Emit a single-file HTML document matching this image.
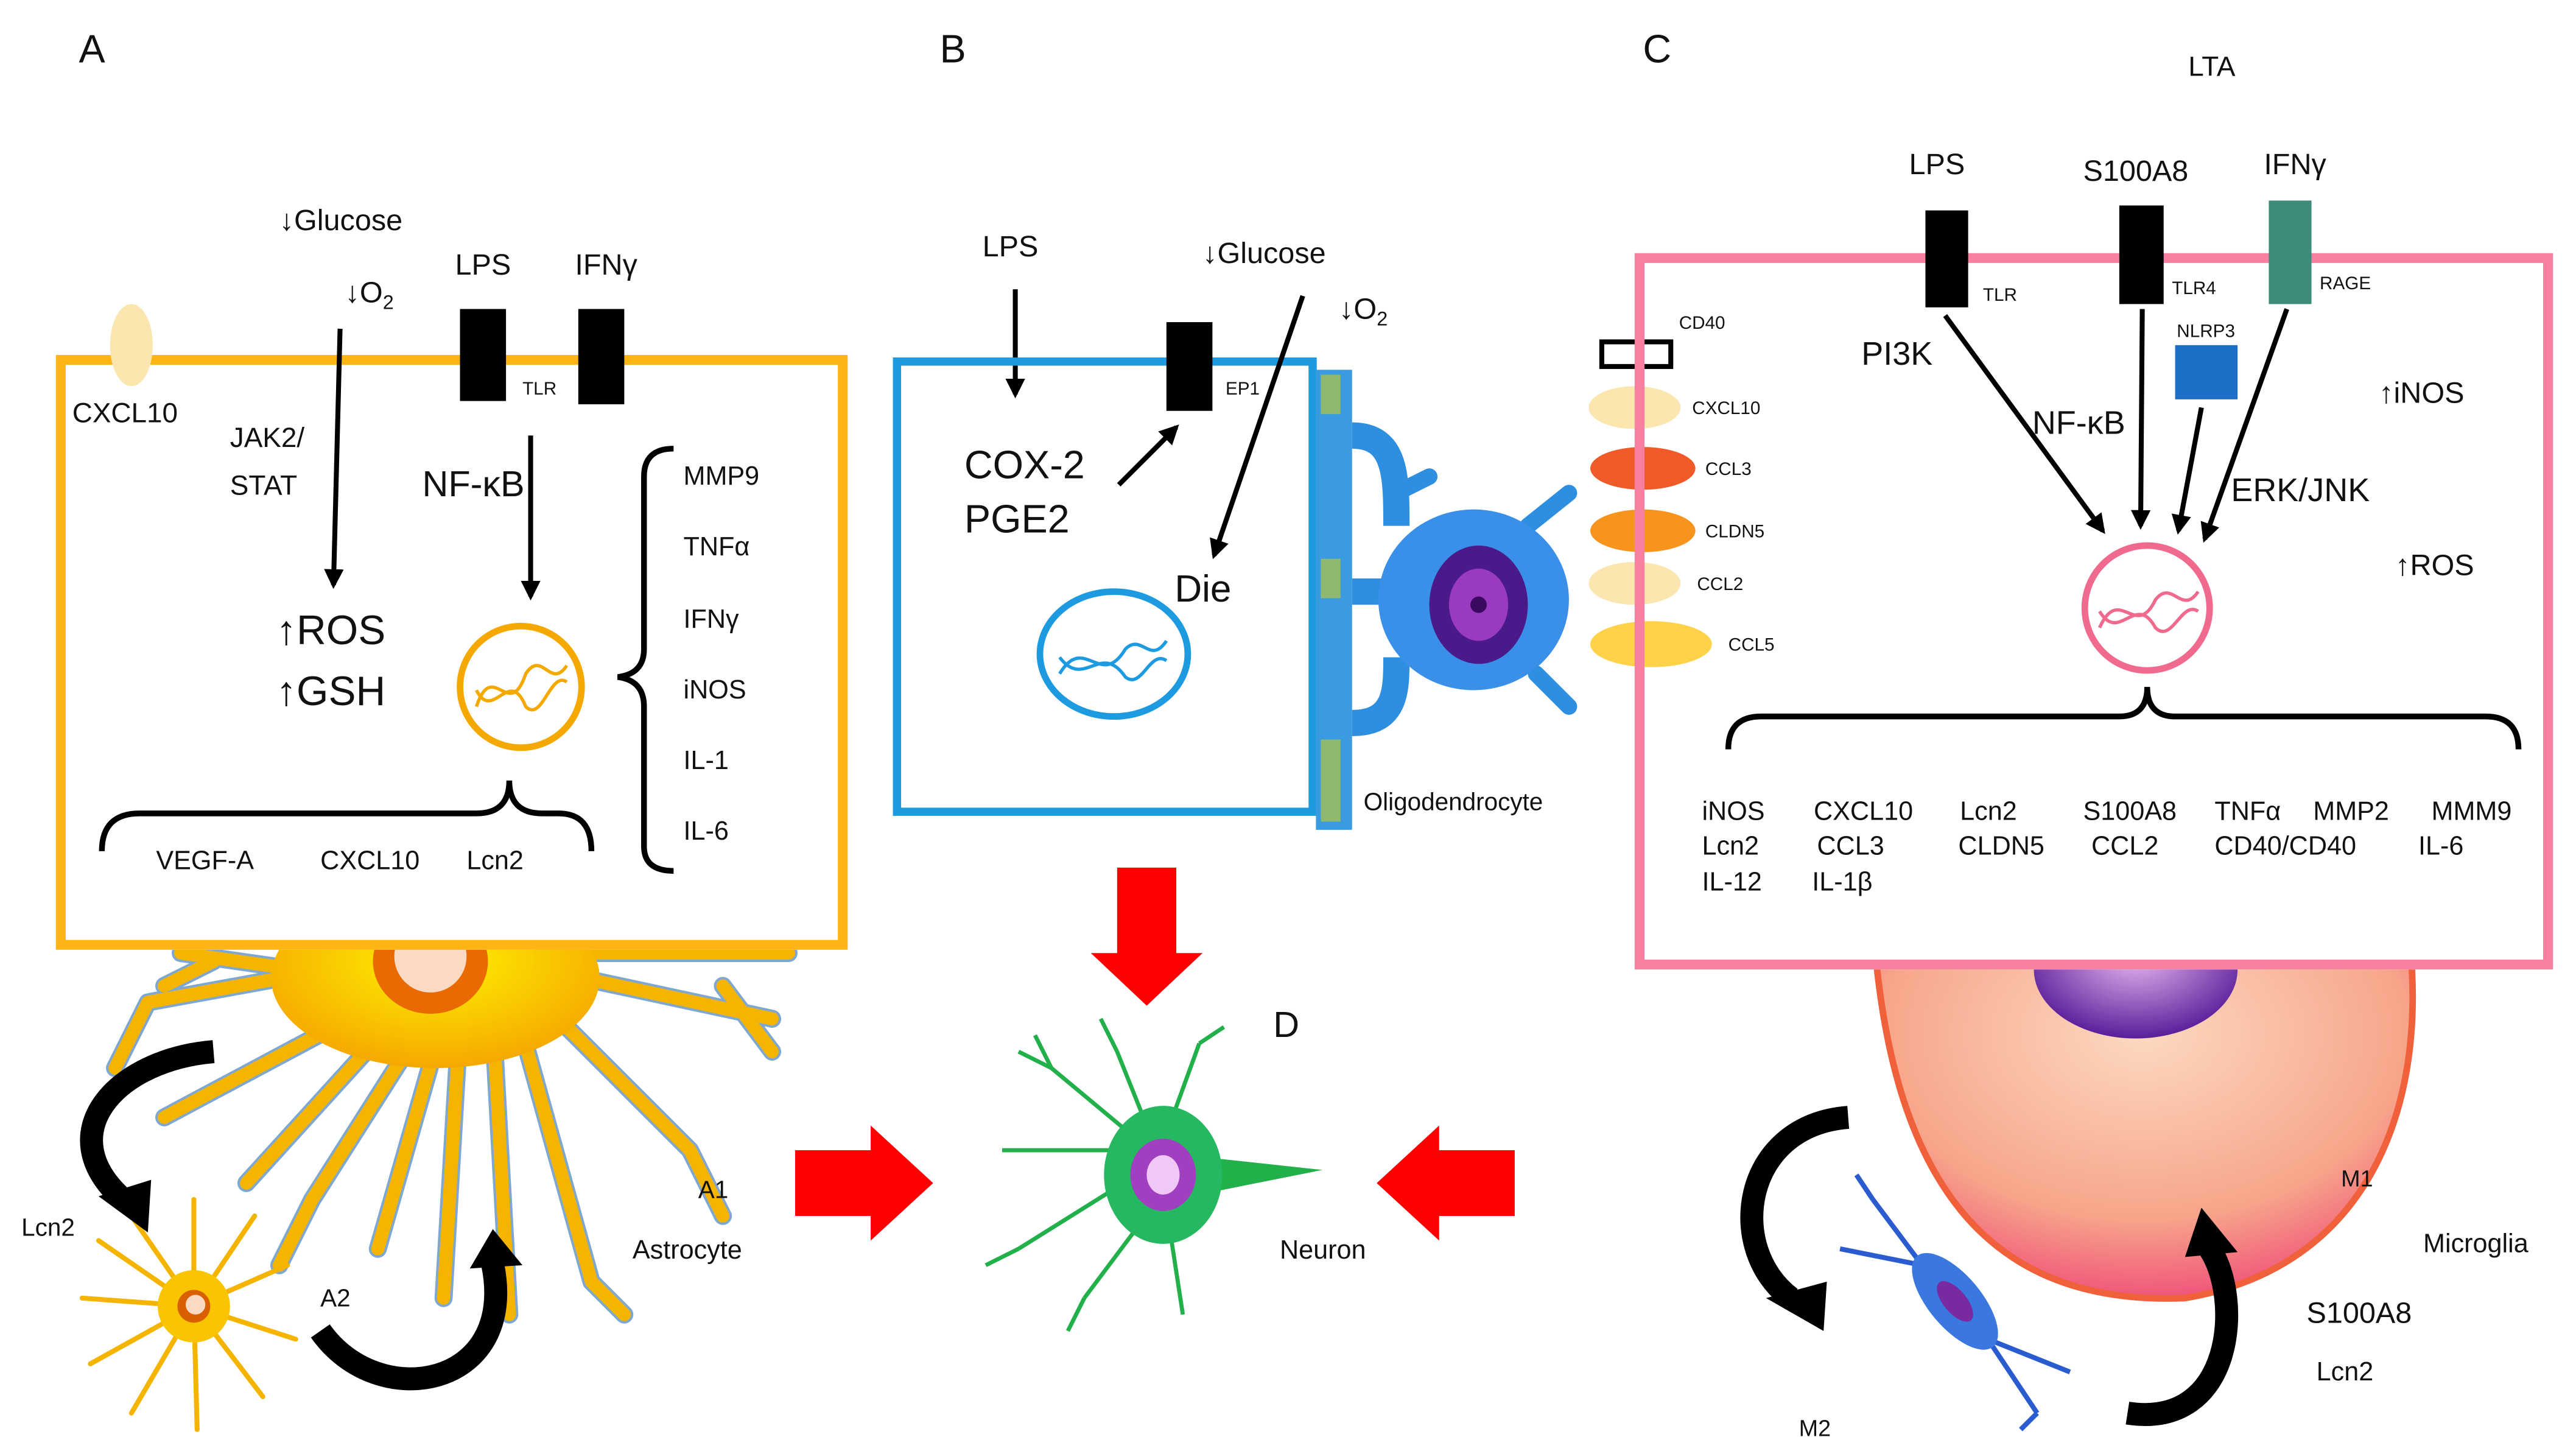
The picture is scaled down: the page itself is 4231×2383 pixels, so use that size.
<!DOCTYPE html>
<html><head><meta charset="utf-8"><style>
html,body{margin:0;padding:0;background:#fff;}
svg{display:block;}
text{font-family:"Liberation Sans",Arial,sans-serif;fill:#111;}
</style></head><body>
<svg width="4231" height="2383" viewBox="0 0 1568 883" xmlns="http://www.w3.org/2000/svg">
<defs>
<marker id="ah" viewBox="0 0 10 10" refX="8" refY="5" markerWidth="4" markerHeight="4" orient="auto"><path d="M0,0 L10,5 L0,10 z" fill="#000"/></marker>
<radialGradient id="astro" cx="50%" cy="40%" r="60%"><stop offset="0" stop-color="#FFF200"/><stop offset="1" stop-color="#F5A800"/></radialGradient>
<radialGradient id="mic" cx="50%" cy="30%" r="70%"><stop offset="0" stop-color="#FCD9C0"/><stop offset="0.7" stop-color="#F7A58A"/><stop offset="1" stop-color="#F0557A"/></radialGradient>
<radialGradient id="nuc" cx="50%" cy="40%" r="60%"><stop offset="0" stop-color="#E8B8F0"/><stop offset="1" stop-color="#5A1E9A"/></radialGradient>
<clipPath id="below"><rect x="0" y="590" width="1568" height="300"/></clipPath>
<clipPath id="belowA"><rect x="0" y="578" width="1568" height="300"/></clipPath>
</defs>

<text x="48" y="38" font-size="24">A</text>
<text x="572" y="38" font-size="24">B</text>
<text x="1000" y="38" font-size="24">C</text>
<text x="1332" y="46" font-size="17">LTA</text>

<!-- ===== Astrocyte drawing (A) ===== -->
<g clip-path="url(#belowA)">
<g stroke="#7FA8D0" stroke-width="11" stroke-linecap="round" fill="none">
<path d="M250,600 L110,580 M250,600 L100,680 M250,610 L150,720 M260,620 L190,730 M270,620 L230,760 M280,620 L270,790 M300,620 L310,800 M310,600 L360,780 M320,600 L420,700 M330,590 L470,620 M330,580 L480,580 M200,590 L90,610 M90,610 L70,650 M420,700 L440,740 M360,780 L380,800 M190,730 L170,770 M440,600 L470,640 M130,585 L100,600"/>
</g>
<g stroke="#F5B400" stroke-width="8" stroke-linecap="round" fill="none">
<path d="M250,600 L110,580 M250,600 L100,680 M250,610 L150,720 M260,620 L190,730 M270,620 L230,760 M280,620 L270,790 M300,620 L310,800 M310,600 L360,780 M320,600 L420,700 M330,590 L470,620 M330,580 L480,580 M200,590 L90,610 M90,610 L70,650 M420,700 L440,740 M360,780 L380,800 M190,730 L170,770 M440,600 L470,640 M130,585 L100,600"/>
</g>
<ellipse cx="265" cy="595" rx="100" ry="55" fill="url(#astro)"/>
<ellipse cx="262" cy="585" rx="35" ry="32" fill="#E86A00"/>
<ellipse cx="262" cy="582" rx="22" ry="22" fill="#FBD9C2"/>
</g>
<g stroke="#F5B400" stroke-width="3" stroke-linecap="round" fill="none">
<path d="M118,795 L80,740 M118,795 L118,730 M118,795 L155,740 M118,795 L175,770 M118,795 L180,815 M118,795 L160,850 M118,795 L120,870 M118,795 L80,860 M118,795 L55,830 M118,795 L50,790 M118,795 L60,755"/>
</g>
<circle cx="118" cy="795" r="22" fill="#F9C500"/>
<circle cx="118" cy="795" r="10" fill="#D95F00"/>
<circle cx="119" cy="794" r="6" fill="#FBD9C2"/>
<path d="M130,640 C70,645 30,690 75,730" stroke="#000" stroke-width="14" fill="none"/>
<polygon points="60,728 92,718 90,750" fill="#000"/>
<path d="M195,810 C230,860 315,845 300,770" stroke="#000" stroke-width="14" fill="none"/>
<polygon points="286,772 318,770 300,748" fill="#000"/>
<text x="13" y="752" font-size="15">Lcn2</text>
<text x="195" y="795" font-size="15">A2</text>
<text x="425" y="729" font-size="15">A1</text>
<text x="385" y="766" font-size="16">Astrocyte</text>

<rect x="37" y="219" width="476" height="356" fill="#fff" stroke="#FDB515" stroke-width="6"/>
<ellipse cx="80" cy="210" rx="13" ry="25" fill="#FCE6B0"/>
<text x="44" y="257" font-size="17">CXCL10</text>
<text x="170" y="140" font-size="18">↓Glucose</text>
<text x="210" y="184" font-size="18">↓O<tspan font-size="12" dy="4">2</tspan></text>
<text x="277" y="167" font-size="18">LPS</text>
<text x="350" y="167" font-size="18">IFNγ</text>
<rect x="280" y="188" width="28" height="56" fill="#000"/>
<rect x="352" y="188" width="28" height="58" fill="#000"/>
<text x="318" y="240" font-size="11">TLR</text>
<text x="140" y="272" font-size="17">JAK2/</text>
<text x="140" y="301" font-size="17">STAT</text>
<line x1="207" y1="200" x2="203" y2="356" stroke="#000" stroke-width="3" marker-end="url(#ah)"/>
<text x="257" y="302" font-size="22">NF-κB</text>
<line x1="323" y1="265" x2="323" y2="363" stroke="#000" stroke-width="3" marker-end="url(#ah)"/>
<text x="168" y="392" font-size="25">↑ROS</text>
<text x="168" y="429" font-size="25">↑GSH</text>
<circle cx="317" cy="418" r="37" fill="none" stroke="#F5A800" stroke-width="4"/>
<path d="M290,430 C300,400 310,440 320,410 C330,395 335,420 345,405" stroke="#F5A800" stroke-width="2" fill="none"/>
<path d="M290,420 C300,440 310,405 320,430 C330,440 335,408 345,415" stroke="#F5A800" stroke-width="2" fill="none"/>
<path d="M410,273 Q392,273 392,290 L392,395 Q392,410 376,412 Q392,414 392,430 L392,515 Q392,530 410,530" stroke="#000" stroke-width="3.5" fill="none"/>
<g font-size="16"><text x="416" y="295">MMP9</text><text x="416" y="338">TNFα</text><text x="416" y="382">IFNγ</text><text x="416" y="425">iNOS</text><text x="416" y="468">IL-1</text><text x="416" y="511">IL-6</text></g>
<path d="M62,518 Q62,495 85,495 L290,495 Q310,495 310,475 Q310,495 330,495 L340,495 Q360,495 360,518" stroke="#000" stroke-width="3.5" fill="none"/>
<g font-size="16"><text x="95" y="529">VEGF-A</text><text x="195" y="529">CXCL10</text><text x="284" y="529">Lcn2</text></g>

<!-- ===== Panel B ===== -->
<text x="598" y="156" font-size="18">LPS</text>
<line x1="618" y1="176" x2="618" y2="240" stroke="#000" stroke-width="3" marker-end="url(#ah)"/>
<text x="732" y="160" font-size="18">↓Glucose</text>
<text x="815" y="194" font-size="18">↓O<tspan font-size="12" dy="4">2</tspan></text>
<rect x="546" y="220" width="253" height="274" fill="none" stroke="#1E9BE0" stroke-width="5"/>
<rect x="710" y="196" width="28" height="54" fill="#000"/>
<text x="746" y="240" font-size="11">EP1</text>
<text x="587" y="291" font-size="24">COX-2</text>
<text x="587" y="324" font-size="24">PGE2</text>
<line x1="681" y1="295" x2="716" y2="260" stroke="#000" stroke-width="3" marker-end="url(#ah)"/>
<line x1="793" y1="180" x2="739" y2="338" stroke="#000" stroke-width="3" marker-end="url(#ah)"/>
<text x="715" y="366" font-size="23">Die</text>
<ellipse cx="678" cy="398" rx="45" ry="38" fill="none" stroke="#1E9BE0" stroke-width="4"/>
<path d="M645,410 C660,385 670,420 685,395 C695,385 700,405 710,390" stroke="#1E9BE0" stroke-width="2" fill="none"/>
<path d="M645,400 C660,420 670,390 685,412 C695,420 700,395 710,402" stroke="#1E9BE0" stroke-width="2" fill="none"/>
<rect x="801" y="225" width="22" height="280" fill="#3A9BE0"/>
<rect x="804" y="228" width="12" height="24" fill="#8FB870"/>
<rect x="804" y="340" width="12" height="24" fill="#8FB870"/>
<rect x="804" y="450" width="12" height="50" fill="#8FB870"/>
<path d="M823,265 C850,265 850,290 850,320 M823,440 C850,440 850,420 850,400 M823,360 L850,360" stroke="#2E8FE0" stroke-width="16" fill="none"/>
<path d="M850,300 L870,290 M930,320 L955,300 M935,410 L955,430" stroke="#2E8FE0" stroke-width="10" stroke-linecap="round"/>
<ellipse cx="897" cy="365" rx="58" ry="55" fill="#3A8FE8"/>
<ellipse cx="900" cy="368" rx="30" ry="36" fill="#4A1A8A"/>
<ellipse cx="900" cy="368" rx="18" ry="22" fill="#9A3AC0"/>
<circle cx="900" cy="368" r="5" fill="#3A0A60"/>
<text x="830" y="493" font-size="15">Oligodendrocyte</text>

<rect x="975" y="208" width="42" height="15" fill="#fff" stroke="#000" stroke-width="3"/>
<text x="1022" y="200" font-size="11">CD40</text>
<ellipse cx="995" cy="248" rx="28" ry="13" fill="#FCE6B0"/><text x="1030" y="252" font-size="11">CXCL10</text>
<ellipse cx="1000" cy="285" rx="32" ry="13" fill="#F05A28"/><text x="1038" y="289" font-size="11">CCL3</text>
<ellipse cx="1000" cy="323" rx="32" ry="13" fill="#F7941D"/><text x="1038" y="327" font-size="11">CLDN5</text>
<ellipse cx="995" cy="355" rx="28" ry="13" fill="#FCE6B0"/><text x="1033" y="359" font-size="11">CCL2</text>
<ellipse cx="1005" cy="392" rx="37" ry="14" fill="#FFD24A"/><text x="1052" y="396" font-size="11">CCL5</text>

<polygon points="484,700 530,700 530,685 568,720 530,755 530,740 484,740" fill="#F00"/>
<polygon points="922,700 876,700 876,685 838,720 876,755 876,740 922,740" fill="#F00"/>
<polygon points="680,528 716,528 716,580 732,580 698,612 664,580 680,580" fill="#F00"/>

<g stroke="#22B04A" stroke-width="2.5" fill="none">
<path d="M700,700 L640,650 M700,700 L610,700 M700,710 L620,760 M705,730 L660,790 M710,735 L720,800 M700,690 L680,640 M710,690 L730,635 M640,650 L620,640 M640,650 L630,630 M620,760 L600,770 M660,790 L650,810 M730,635 L745,625 M680,640 L670,620"/>
</g>
<path d="M740,705 L805,712 L740,725 z" fill="#22B04A"/>
<ellipse cx="708" cy="715" rx="36" ry="42" fill="#25B860"/>
<ellipse cx="708" cy="715" rx="20" ry="22" fill="#A040C0"/>
<ellipse cx="708" cy="715" rx="10" ry="12" fill="#F0C8F8"/>
<text x="775" y="631" font-size="22">D</text>
<text x="779" y="766" font-size="16">Neuron</text>

<!-- ===== Panel C ===== -->
<g clip-path="url(#below)">
<path d="M1140,560 L1465,560 C1480,660 1450,770 1330,790 C1210,795 1150,720 1140,560 z" fill="url(#mic)" stroke="#F0603A" stroke-width="4"/>
<ellipse cx="1300" cy="590" rx="62" ry="42" fill="url(#nuc)"/>
</g>
<path d="M1125,680 C1060,685 1050,760 1090,790" stroke="#000" stroke-width="14" fill="none"/>
<polygon points="1075,790 1112,780 1110,810" fill="#000"/>
<path d="M1295,860 C1360,870 1365,790 1345,760" stroke="#000" stroke-width="14" fill="none"/>
<polygon points="1330,765 1362,762 1340,735" fill="#000"/>
<g stroke="#2A5CD0" stroke-width="3" fill="none"><path d="M1170,770 L1140,730 M1170,770 L1120,760 M1210,815 L1240,860 M1210,815 L1260,835 M1140,730 L1130,715 M1240,860 L1230,870"/></g>
<ellipse cx="1190" cy="792" rx="16" ry="36" transform="rotate(-40 1190 792)" fill="#3A78E0"/>
<ellipse cx="1190" cy="792" rx="7" ry="15" transform="rotate(-40 1190 792)" fill="#7A2AA0"/>
<text x="1425" y="722" font-size="14">M1</text>
<text x="1475" y="762" font-size="16">Microglia</text>
<text x="1404" y="805" font-size="18">S100A8</text>
<text x="1410" y="840" font-size="16">Lcn2</text>
<text x="1095" y="874" font-size="14">M2</text>

<rect x="998" y="157" width="553" height="430" fill="none" stroke="#F77FA0" stroke-width="6"/>
<text x="1162" y="106" font-size="18">LPS</text>
<text x="1268" y="110" font-size="18">S100A8</text>
<text x="1378" y="106" font-size="18">IFNγ</text>
<rect x="1172" y="128" width="26" height="59" fill="#000"/>
<rect x="1290" y="125" width="27" height="60" fill="#000"/>
<rect x="1381" y="122" width="26" height="63" fill="#3D8C7A"/>
<text x="1207" y="183" font-size="11">TLR</text>
<text x="1322" y="179" font-size="11">TLR4</text>
<text x="1412" y="176" font-size="11">RAGE</text>
<text x="1325" y="205" font-size="11">NLRP3</text>
<rect x="1324" y="210" width="38" height="33" fill="#1E6FC8"/>
<text x="1133" y="222" font-size="20">PI3K</text>
<text x="1237" y="264" font-size="20">NF-κB</text>
<text x="1358" y="305" font-size="20">ERK/JNK</text>
<text x="1448" y="245" font-size="18">↑iNOS</text>
<text x="1458" y="350" font-size="18">↑ROS</text>
<line x1="1184" y1="192" x2="1280" y2="323" stroke="#000" stroke-width="3" marker-end="url(#ah)"/>
<line x1="1304" y1="188" x2="1303" y2="320" stroke="#000" stroke-width="3" marker-end="url(#ah)"/>
<line x1="1340" y1="248" x2="1326" y2="323" stroke="#000" stroke-width="3" marker-end="url(#ah)"/>
<line x1="1392" y1="188" x2="1342" y2="328" stroke="#000" stroke-width="3" marker-end="url(#ah)"/>
<circle cx="1307" cy="370" r="38" fill="none" stroke="#F06A8E" stroke-width="4"/>
<path d="M1278,382 C1290,355 1300,390 1312,365 C1322,352 1328,375 1338,360" stroke="#F06A8E" stroke-width="2" fill="none"/>
<path d="M1278,372 C1290,392 1300,360 1312,382 C1322,392 1328,365 1338,372" stroke="#F06A8E" stroke-width="2" fill="none"/>
<path d="M1052,456 Q1052,436 1072,436 L1290,436 Q1307,436 1307,418 Q1307,436 1324,436 L1513,436 Q1533,436 1533,456" stroke="#000" stroke-width="3.5" fill="none"/>
<g font-size="16">
<text x="1036" y="499">iNOS</text><text x="1036" y="520">Lcn2</text><text x="1036" y="542">IL-12</text>
<text x="1104" y="499">CXCL10</text><text x="1106" y="520">CCL3</text><text x="1103" y="542">IL-1β</text>
<text x="1193" y="499">Lcn2</text><text x="1192" y="520">CLDN5</text>
<text x="1268" y="499">S100A8</text><text x="1273" y="520">CCL2</text>
<text x="1348" y="499">TNFα</text><text x="1408" y="499">MMP2</text><text x="1348" y="520">CD40/CD40</text>
<text x="1480" y="499">MMM9</text><text x="1472" y="520">IL-6</text>
</g>
</svg>
</body></html>
